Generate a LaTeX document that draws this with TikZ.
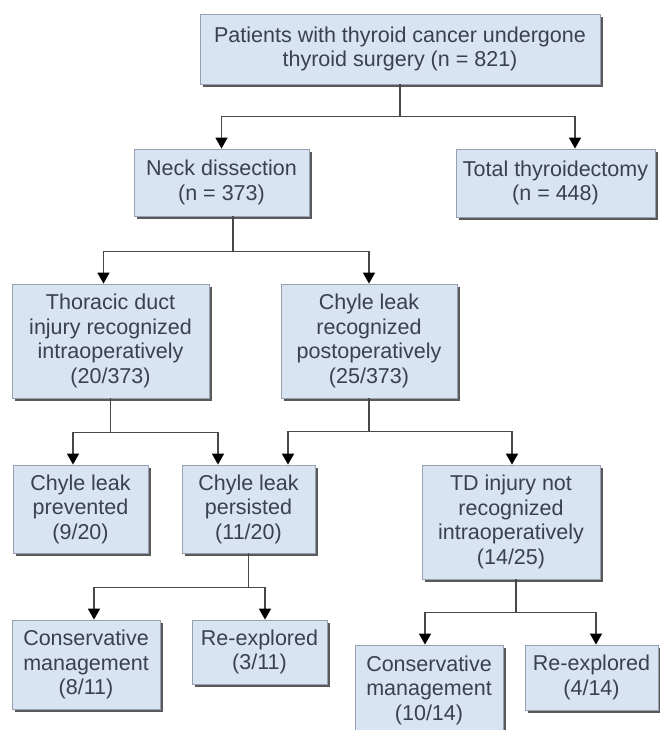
\documentclass[tikz,border=0pt]{standalone}
\usepackage{fontspec}
\setmainfont{Liberation Sans}
\usetikzlibrary{arrows.meta,shadows}
\definecolor{boxfill}{RGB}{216,228,242}
\definecolor{boxline}{RGB}{150,160,176}
\definecolor{txt}{RGB}{58,64,78}
\definecolor{conn}{RGB}{72,72,72}
\tikzset{
  fbox/.style={rectangle, fill=boxfill, draw=boxline, line width=0.8pt,
    inner sep=0pt, align=center, text=txt,
    font=\fontsize{21.5}{24.5}\selectfont,
    drop shadow={shadow xshift=3pt, shadow yshift=-3pt, fill=black!65, opacity=1}},
  link/.style={draw=conn, line width=1.5pt},
  arr/.style={link, -{Triangle[width=12pt,length=11pt,color=black]}}
}
\begin{document}
\begin{tikzpicture}[x=1pt,y=-1pt]
\useasboundingbox (0,0) rectangle (660,730);
\clip (0,0) rectangle (660,730);
\fill[white] (0,0) rectangle (660,730);
\node[fbox, minimum width=400pt, minimum height=70pt] (top) at (400,49)
  {Patients with thyroid cancer undergone\\thyroid surgery (n = 821)};
\node[fbox, minimum width=175pt, minimum height=67pt] (neck) at (221.5,182.5)
  {Neck dissection\\(n = 373)};
\node[fbox, minimum width=199pt, minimum height=68pt] (total) at (555.5,183)
  {Total thyroidectomy\\(n = 448)};
\node[fbox, minimum width=197pt, minimum height=114pt] (thor) at (110.5,341)
  {Thoracic duct\\injury recognized\\intraoperatively\\(20/373)};
\node[fbox, minimum width=176pt, minimum height=114pt] (chyle) at (369,341)
  {Chyle leak\\recognized\\postoperatively\\(25/373)};
\node[fbox, minimum width=135pt, minimum height=88pt] (prev) at (80.5,509)
  {Chyle leak\\prevented\\(9/20)};
\node[fbox, minimum width=133pt, minimum height=88pt] (pers) at (248.5,509)
  {Chyle leak\\persisted\\(11/20)};
\node[fbox, minimum width=178pt, minimum height=114pt] (td) at (511,522)
  {TD injury not\\recognized\\intraoperatively\\(14/25)};
\node[fbox, minimum width=148pt, minimum height=89pt] (cons1) at (86,664.5)
  {Conservative\\management\\(8/11)};
\node[fbox, minimum width=135pt, minimum height=64pt] (re1) at (259.5,652)
  {Re-explored\\(3/11)};
\node[fbox, minimum width=148pt, minimum height=90pt] (cons2) at (429,690)
  {Conservative\\management\\(10/14)};
\node[fbox, minimum width=133pt, minimum height=65pt] (re2) at (591.5,677.5)
  {Re-explored\\(4/14)};
% connectors
\draw[link] (top.south) -- ++(0,32) coordinate (j1);
\draw[arr] (j1) -| (neck.north);
\draw[arr] (j1) -| ([xshift=19.5pt]total.north);
\draw[link] ([xshift=11.5pt]neck.south) -- ++(0,35) coordinate (j2);
\draw[arr] (j2) -| ([xshift=-7pt]thor.north);
\draw[arr] (j2) -| (chyle.north);
\draw[link] (thor.south) -- ++(0,34) coordinate (j3);
\draw[arr] (j3) -| ([xshift=-7.5pt]prev.north);
\draw[arr] (j3) -| ([xshift=-30.5pt]pers.north);
\draw[link] (chyle.south) -- ++(0,33) coordinate (j4);
\draw[arr] (j4) -| ([xshift=39.5pt]pers.north);
\draw[arr] (j4) -| ([xshift=1pt]td.north);
\draw[link] (pers.south) -- ++(0,34) coordinate (j5);
\draw[arr] (j5) -| ([xshift=8pt]cons1.north);
\draw[arr] (j5) -| ([xshift=5.5pt]re1.north);
\draw[link] ([xshift=5pt]td.south) -- ++(0,33) coordinate (j6);
\draw[arr] (j6) -| ([xshift=-4pt]cons2.north);
\draw[arr] (j6) -| ([xshift=4.5pt]re2.north);
\end{tikzpicture}
\end{document}
